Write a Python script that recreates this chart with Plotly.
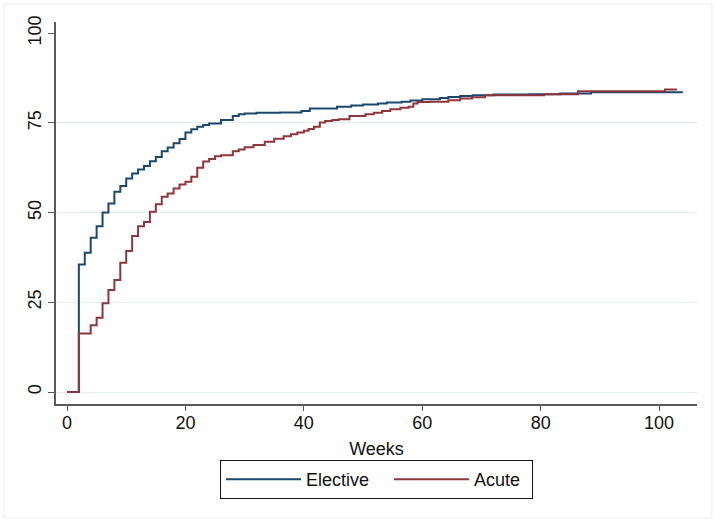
import plotly.graph_objects as go

# Kaplan-Meier style cumulative incidence (%)
elective_weeks = [0, 2, 3, 4, 5, 6, 7, 8, 9, 10, 11, 12, 13, 14, 15, 16, 17, 18, 19, 20,
                  21, 22, 23, 24, 26, 28, 29, 30, 32, 36, 39.6, 41, 45.6, 48, 50, 52.5, 54,
                  56.5, 58, 60, 63, 64.4, 66.4, 68.5, 72, 78, 83.3, 88.5, 104]
elective_pct = [0, 35.5, 38.8, 43.0, 46.2, 50.0, 52.5, 55.8, 57.4, 59.5, 60.9, 62.0, 63.0,
                64.3, 65.5, 67.1, 68.1, 69.3, 70.5, 72.3, 73.2, 73.9, 74.4, 74.8, 75.8, 76.9,
                77.4, 77.6, 77.8, 77.9, 78.3, 79.0, 79.5, 79.8, 80.1, 80.4, 80.7, 80.9, 81.2,
                81.6, 81.9, 82.2, 82.5, 82.7, 82.9, 83.0, 83.2, 83.5, 83.5]

acute_weeks = [0, 2, 4, 5, 6, 7, 8, 9, 10, 11, 12, 13, 14, 15, 16, 17, 18, 19, 20, 21,
               22, 23, 24, 25, 26, 28, 29, 30, 31.5, 33.4, 35, 36.6, 37.8, 38.9, 40, 40.8,
               41.7, 42.7, 43.6, 44.8, 45.9, 47.7, 50.4, 51.8, 53.2, 54.6, 56.3, 57.7, 58.5,
               59.2, 61.3, 64.4, 66.4, 68.4, 70.6, 80.6, 86.3, 101, 103]
acute_pct = [0, 16.3, 18.6, 20.7, 24.7, 28.4, 31.2, 36.0, 39.3, 43.5, 46.2, 47.4, 50.2,
             52.3, 54.4, 55.3, 56.7, 57.8, 58.6, 60.0, 62.5, 64.2, 64.9, 65.7, 66.0, 67.1,
             67.6, 68.2, 68.8, 69.7, 70.6, 71.3, 71.8, 72.3, 72.8, 73.3, 73.9, 75.1, 75.5,
             75.8, 76.0, 76.9, 77.4, 77.8, 78.3, 78.8, 79.2, 79.5, 80.4, 80.8, 80.9, 81.3,
             81.8, 82.1, 82.7, 83.0, 83.8, 84.3, 84.3]

x_ticks = [0, 20, 40, 60, 80, 100]
y_ticks = [0, 25, 50, 75, 100]
y_grid = [0, 25, 50, 75]

FONT = "Liberation Sans, Arial, sans-serif"
FS = 18
TXT = "#111111"
AXC = "#5a5a5a"

fig = go.Figure()
fig.add_trace(go.Scatter(x=elective_weeks, y=elective_pct, mode="lines", name="Elective",
                         legendwidth=78,
                         line=dict(color="#1a476f", width=2, shape="hv")))
fig.add_trace(go.Scatter(x=acute_weeks, y=acute_pct, mode="lines", name="Acute",
                         legendwidth=53,
                         line=dict(color="#90353b", width=2, shape="hv")))

fig.update_layout(
    width=716, height=523,
    margin=dict(l=56, r=19, t=22, b=119, autoexpand=False),
    paper_bgcolor="white", plot_bgcolor="white",
    font=dict(family=FONT, size=FS, color=TXT),
    showlegend=True,
    legend=dict(orientation="h", x=0.5, xanchor="center", y=-0.1466, yanchor="top",
                bordercolor="#111111", borderwidth=1, bgcolor="white",
                font=dict(size=FS, family=FONT, color=TXT),
                itemwidth=75),
    xaxis=dict(range=[-1.86, 106.4], tickvals=x_ticks, showgrid=False, zeroline=False,
               showline=True, linecolor=AXC, linewidth=1.5, automargin=False,
               ticks="outside", ticklen=5, tickwidth=1.3, tickcolor=AXC,
               ticklabelstandoff=-3,
               tickfont=dict(size=FS, family=FONT, color=TXT),
               title=dict(text="Weeks", standoff=10, font=dict(size=FS, family=FONT, color=TXT))),
    yaxis=dict(range=[-3.34, 103.1], tickvals=y_ticks, showgrid=False, zeroline=False,
               showline=True, linecolor=AXC, linewidth=1.5, automargin=False,
               ticks="outside", ticklen=6, tickwidth=1.3, tickcolor=AXC,
               tickangle=-90, tickfont=dict(size=FS, family=FONT, color=TXT),
               minor=dict(tickvals=y_grid, showgrid=True, gridcolor="#e3ecef", gridwidth=1.2,
                          ticks="")),
    shapes=[dict(type="rect", xref="paper", yref="paper", x0=-0.0811, x1=1.0234,
                 y0=-0.2984, y1=1.0471, line=dict(color="#ececec", width=1),
                 fillcolor="rgba(0,0,0,0)", layer="below")],
)

fig.write_html("out.html", config={"displayModeBar": False},
               post_script="document.body.style.margin='0';")
